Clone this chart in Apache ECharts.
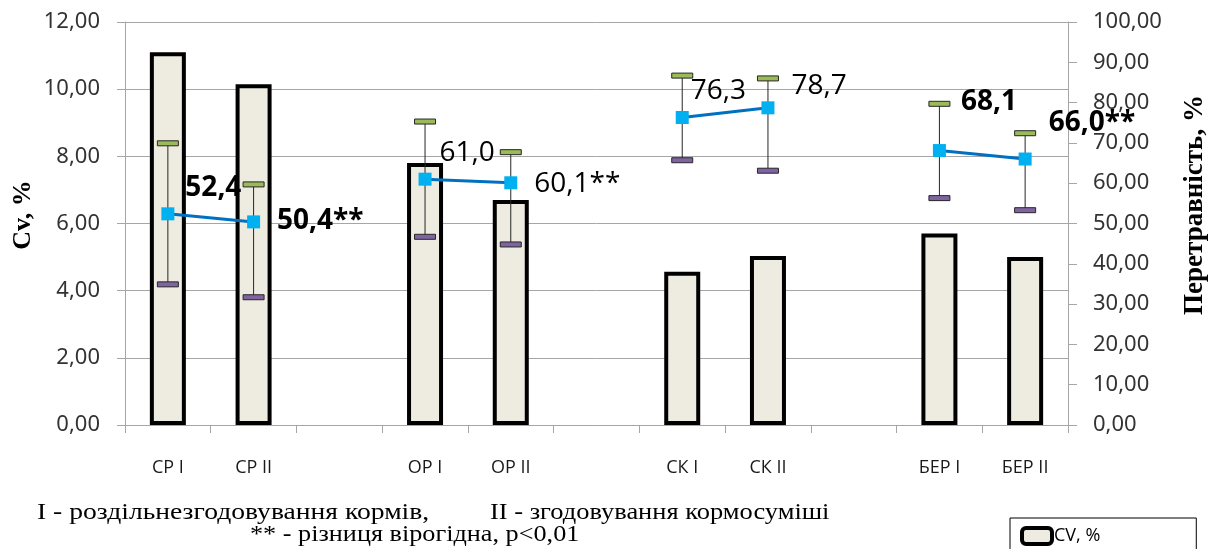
<!DOCTYPE html>
<html>
<head>
<meta charset="utf-8">
<script src="https://cdn.jsdelivr.net/npm/echarts@6/dist/echarts.min.js"></script>
<style>
  html, body { margin: 0; padding: 0; background: #fff; }
  #chart { width: 1211px; height: 549px; }
</style>
</head>
<body>
<div id="chart"></div>
<script>
  // категорії (порожні — проміжки між групами)
  const categories = ['СР І', 'СР ІІ', ' ', 'ОР І', 'ОР ІІ', '  ', 'СК І', 'СК ІІ', '   ', 'БЕР І', 'БЕР ІІ']
  // Cv, % (ліва вісь)
  const cvValues = [11.1, 10.15, 7.8, 6.7, 4.56, 5.03, 5.7, 5.0]
  // перетравність, % (права вісь)
  const digestValues = [52.4, 50.4, 61.0, 60.1, 76.3, 78.7, 68.1, 66.0]
  const digestSig = ['', '**', '', '**', '', '', '', '**']
  // межі похибки
  const errHigh = [69.9, 59.7, 75.3, 67.7, 86.7, 86.0, 79.7, 72.4]
  const errLow = [34.9, 31.7, 46.7, 44.8, 65.7, 63.1, 56.3, 53.3]
  const leftTicks = { min: 0, max: 12, interval: 2 }
  const rightTicks = { min: 0, max: 100, interval: 10 }

  // підписи точок: зсув і жирність
  const labelOffset = [[18, -25], [24, 0], [15, -26], [24, 2], [9, -26], [24, -21], [22, -48], [24, -35]]
  const labelBold = [true, true, false, false, false, false, true, true]

  const fmt = v => v.toFixed(1).replace('.', ',')

  // індекси непорожніх категорій
  const slots = []
  categories.forEach((c, i) => { if (c.trim()) slots.push(i) })

  const barData = categories.map(() => null)
  const lineData = categories.map(() => null)
  const errData = []
  slots.forEach((idx, k) => {
    barData[idx] = cvValues[k]
    lineData[idx] = {
      value: digestValues[k],
      label: {
        show: true,
        position: [labelOffset[k][0] + 6, labelOffset[k][1] + 6],
        align: 'left',
        verticalAlign: 'middle',
        fontWeight: labelBold[k] ? 'bold' : 'normal',
        formatter: fmt(digestValues[k]) + digestSig[k]
      }
    }
    errData.push([idx, errLow[k], errHigh[k]])
  })

  const axisColor = '#a6a6a6'
  const tickFont = { color: '#333', fontSize: 22, fontFamily: 'Noto Sans' }

  let myChart = echarts.init(document.getElementById('chart'))
  myChart.setOption({
    animation: false,
    grid: { left: 125, right: 143, top: 22, bottom: 124 },
    legend: {
      data: [{
        name: 'CV, %',
        itemStyle: { color: '#eeece1', borderColor: '#000', borderWidth: 4 }
      }],
      left: 1010,
      top: 518,
      orient: 'vertical',
      itemWidth: 30,
      itemHeight: 16,
      itemGap: 4,
      borderColor: '#000',
      borderWidth: 1,
      borderRadius: 0,
      padding: [8, 96, 8, 10],
      textStyle: { fontFamily: 'Open Sans', fontSize: 18, color: '#000', padding: [0, 0, 0, -3] }
    },
    xAxis: {
      type: 'category',
      data: categories,
      axisLine: { lineStyle: { color: axisColor, width: 1 } },
      axisTick: { show: true, length: 8, lineStyle: { color: axisColor } },
      axisLabel: {
        margin: 34,
        interval: 0,
        color: '#1a1a1a',
        fontSize: 18,
        fontFamily: 'Open Sans'
      }
    },
    yAxis: [
      {
        type: 'value',
        min: leftTicks.min, max: leftTicks.max, interval: leftTicks.interval,
        axisLine: { show: true, lineStyle: { color: axisColor } },
        axisTick: { show: true, length: 8, lineStyle: { color: axisColor } },
        splitLine: { show: true, lineStyle: { color: axisColor, width: 1 } },
        axisLabel: Object.assign({ margin: 25, formatter: v => v.toFixed(2).replace('.', ',') }, tickFont)
      },
      {
        type: 'value',
        position: 'right',
        min: rightTicks.min, max: rightTicks.max, interval: rightTicks.interval,
        axisLine: { show: true, lineStyle: { color: axisColor } },
        axisTick: { show: true, length: 9, lineStyle: { color: axisColor } },
        splitLine: { show: false },
        axisLabel: Object.assign({ margin: 25, formatter: v => v.toFixed(2).replace('.', ',') }, tickFont)
      }
    ],
    series: [
      {
        name: 'CV, %',
        type: 'bar',
        yAxisIndex: 0,
        barWidth: 36,
        data: barData,
        itemStyle: { color: '#eeece1', borderColor: '#000', borderWidth: 4 },
        z: 2
      },
      {
        name: 'err',
        type: 'custom',
        yAxisIndex: 1,
        data: errData,
        z: 3,
        renderItem: function (params, api) {
          const x = api.value(0)
          const pLo = api.coord([x, api.value(1)])
          const pHi = api.coord([x, api.value(2)])
          const w = 21, h = 5
          return {
            type: 'group',
            children: [
              { type: 'line', shape: { x1: pLo[0], y1: pLo[1], x2: pHi[0], y2: pHi[1] }, style: { stroke: '#262626', lineWidth: 1 } },
              { type: 'rect', shape: { x: pHi[0] - w / 2, y: pHi[1] - h / 2, width: w, height: h }, style: { fill: '#9bbb59', stroke: '#262626', lineWidth: 1 } },
              { type: 'rect', shape: { x: pLo[0] - w / 2, y: pLo[1] - h / 2, width: w, height: h }, style: { fill: '#8064a2', stroke: '#262626', lineWidth: 1 } }
            ]
          }
        }
      },
      {
        name: 'Перетравність',
        type: 'line',
        yAxisIndex: 1,
        data: lineData,
        connectNulls: false,
        symbol: 'rect',
        symbolSize: 13,
        lineStyle: { color: '#0070c0', width: 3 },
        itemStyle: { color: '#00b0f0' },
        label: { color: '#000', fontSize: 28, fontFamily: 'Open Sans' },
        z: 4
      }
    ],
    graphic: [
      {
        type: 'text', x: 23, y: 215, rotation: Math.PI / 2,
        style: { text: 'Cv, %', font: 'bold 26px "Liberation Serif"', fill: '#000', textAlign: 'center', textVerticalAlign: 'middle' }
      },
      {
        type: 'text', x: 1195, y: 205, rotation: Math.PI / 2,
        style: { text: 'Перетравність, %', font: 'bold 27px "Liberation Serif"', fill: '#000', textAlign: 'center', textVerticalAlign: 'middle' }
      },
      {
        type: 'text', x: 37, y: 513, scaleX: 1.2,
        style: { text: 'І - роздільнезгодовування кормів,', font: '23px "Liberation Serif"', fill: '#000', textVerticalAlign: 'middle' }
      },
      {
        type: 'text', x: 490, y: 513, scaleX: 1.15,
        style: { text: 'ІІ - згодовування кормосуміші', font: '23px "Liberation Serif"', fill: '#000', textVerticalAlign: 'middle' }
      },
      {
        type: 'text', x: 250, y: 535, scaleX: 1.14,
        style: { text: '** - різниця вірогідна, р<0,01', font: '23px "Liberation Serif"', fill: '#000', textVerticalAlign: 'middle' }
      }
    ]
  })
</script>
</body>
</html>
